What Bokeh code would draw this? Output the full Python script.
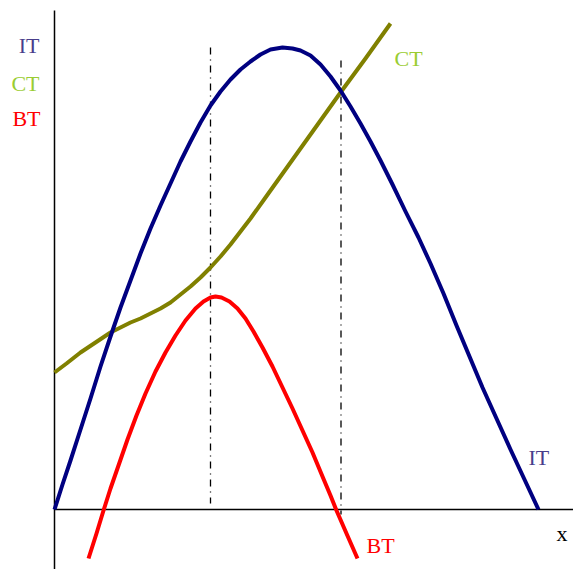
from bokeh.plotting import figure
from bokeh.models import Range1d, ColumnDataSource
from bokeh.core.properties import value
from bokeh.embed import file_html
from bokeh.resources import INLINE

# Quantity (x) and value (y), in chart units
it_x = [0, 8, 16, 26, 36, 46, 56, 66, 76, 86, 96, 106, 116, 126, 136, 146, 156, 166, 176, 186,
        196, 206, 216, 228, 238, 246, 256, 266, 276, 286, 296, 306, 316, 326, 338, 351, 364,
        376, 389, 402, 415, 428, 442, 456, 470, 484]
it_y = [0, 25, 49, 80, 111, 143, 173, 202, 229, 256, 281, 304, 326, 348, 368, 387, 404, 418, 430, 440,
        448, 455, 460, 462, 461, 459, 454, 445, 433, 419, 403, 386, 368, 349, 325, 298, 272,
        246, 216, 184, 153, 122, 91, 60, 30, 0]

ct_x = [0, 12, 26, 41, 56, 66, 76, 86, 96, 106, 116, 126, 136, 146, 156, 166, 176, 186, 196,
        211, 226, 246, 266, 286, 311, 336]
ct_y = [137, 146, 157, 167, 177, 182, 187, 191, 196, 201, 207, 215, 223, 232, 242, 253, 265, 278, 291,
        312, 333, 361, 389, 417, 451, 486]

bt_x = [34, 42, 49, 56, 64, 73, 82, 91, 101, 111, 121, 131, 141, 149, 156, 161, 167, 175, 183,
        191, 199, 208, 218, 228, 238, 248, 258, 268, 276, 282, 292, 303]
bt_y = [-49, -24, -1, 21, 44, 70, 94, 116, 138, 157, 174, 189, 201, 208, 212, 213, 212, 208, 201,
        191, 178, 162, 143, 122, 101, 79, 57, 33, 14, -1, -24, -49]

# vertical guide lines (optimal quantity, break-even quantity)
guide_x = [156, 286.5]
guide_top = [462, 449]
guide_bottom = [6, -5]

# curve labels
labels = ["IT", "CT", "BT", "CT", "IT", "BT", "x"]
label_x = [-15, -15, -14, 340, 474, 312, 502]
label_y = [464, 426, 391, 451, 52, -36, -24]
label_color = ["#483d8b", "#9acd32", "#ff0000", "#9acd32", "#483d8b", "#ff0000", "#000000"]
label_align = ["right", "right", "right", "left", "left", "left", "left"]

p = figure(width=573, height=569, output_backend="svg", toolbar_location=None,
           x_range=Range1d(-54, 519), y_range=Range1d(-60, 509),
           min_border=0, min_border_left=0, min_border_right=0,
           min_border_top=0, min_border_bottom=0)
p.axis.visible = False
p.grid.visible = False
p.outline_line_color = None
p.background_fill_color = "white"
p.border_fill_color = "white"

# axes
p.segment(x0=[0], y0=[-62], x1=[0], y1=[499], line_color="black", line_width=1.5)
p.segment(x0=[0], y0=[0], x1=[522], y1=[0], line_color="black", line_width=1.5)

# guide lines (drawn from the top so the dash pattern starts there)
p.segment(x0=guide_x, y0=guide_top, x1=guide_x, y1=guide_bottom,
          line_color="black", line_width=1.3, line_dash="7 5 1 5")

p.line(ct_x, ct_y, line_color="#808000", line_width=4, line_join="round")
p.line(it_x, it_y, line_color="#000080", line_width=4, line_join="round")
p.line(bt_x, bt_y, line_color="#ff0000", line_width=4, line_join="round")

src = ColumnDataSource(dict(x=label_x, y=label_y, t=labels, c=label_color, a=label_align))
p.text(x="x", y="y", text="t", text_color="c", text_align="a", text_baseline="middle",
       text_font=value("Liberation Serif"), text_font_size="22px", source=src)

open("out.html", "w").write(file_html(p, INLINE))
